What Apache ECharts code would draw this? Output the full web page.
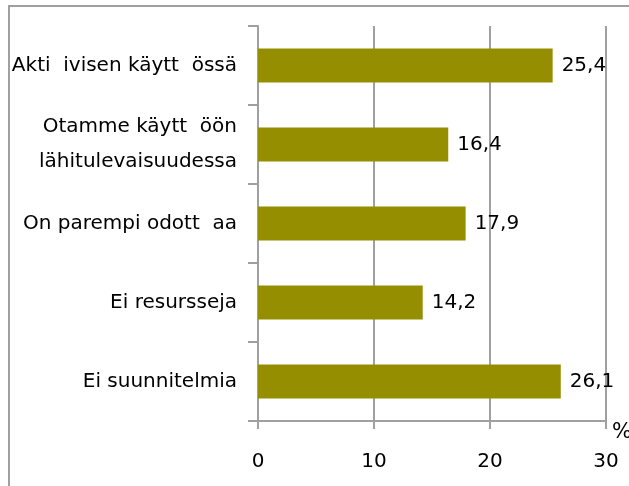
<!DOCTYPE html>
<html>
<head>
<meta charset="utf-8">
<script src="https://cdn.jsdelivr.net/npm/echarts@6/dist/echarts.min.js"></script>
<style>
html,body{margin:0;padding:0;background:#fff;}
#chart{width:629px;height:486px;}
</style>
</head>
<body>
<div id="chart"></div>
<script>
var categories = [
  "Akti  ivisen käytt  össä",
  "Otamme käytt  öön\nlähitulevaisuudessa",
  "On parempi odott  aa",
  "Ei resursseja",
  "Ei suunnitelmia"
];
var values = [25.4, 16.4, 17.9, 14.2, 26.1];
var xTicks = [0, 10, 20, 30];
var unitLabel = "%";

var chart = echarts.init(document.getElementById('chart'), null, {renderer: 'canvas'});
var font = 'DejaVu Sans';
chart.setOption({
  animation: false,
  backgroundColor: '#ffffff',
  graphic: [{
    type: 'rect',
    shape: {x: 9, y: 6, width: 700, height: 700},
    style: {fill: 'none', stroke: '#a0a0a0', lineWidth: 2},
    silent: true
  }],
  grid: {left: 258, right: 23, top: 26, bottom: 65, containLabel: false, outerBoundsMode: 'none'},
  xAxis: {
    type: 'value',
    min: xTicks[0],
    max: xTicks[xTicks.length - 1],
    interval: 10,
    name: unitLabel,
    nameLocation: 'end',
    nameGap: 6,
    nameTextStyle: {fontFamily: font, fontSize: 21, color: '#000', align: 'left', verticalAlign: 'top', padding: [1, 0, 0, 0]},
    axisLine: {show: true, lineStyle: {color: '#a0a0a0', width: 2}},
    axisTick: {show: true, length: 8, lineStyle: {color: '#a0a0a0', width: 2}},
    axisLabel: {fontFamily: font, fontSize: 20, color: '#000', margin: 31},
    splitLine: {show: true, lineStyle: {color: '#a0a0a0', width: 2}}
  },
  yAxis: {
    type: 'category',
    data: categories,
    inverse: true,
    axisLine: {show: true, lineStyle: {color: '#a0a0a0', width: 2}},
    axisTick: {show: true, length: 10, lineStyle: {color: '#a0a0a0', width: 2}},
    axisLabel: {fontFamily: font, fontSize: 20, color: '#000', margin: 21, lineHeight: 35, align: 'right'},
    splitLine: {show: false}
  },
  series: [{
    type: 'bar',
    data: values,
    barWidth: 34,
    itemStyle: {color: '#948e00'},
    label: {
      show: true,
      position: 'right',
      distance: 9,
      fontFamily: font,
      fontSize: 20,
      color: '#000',
      formatter: function (p) { return p.value.toFixed(1).replace('.', ','); }
    }
  }]
});
</script>
</body>
</html>
